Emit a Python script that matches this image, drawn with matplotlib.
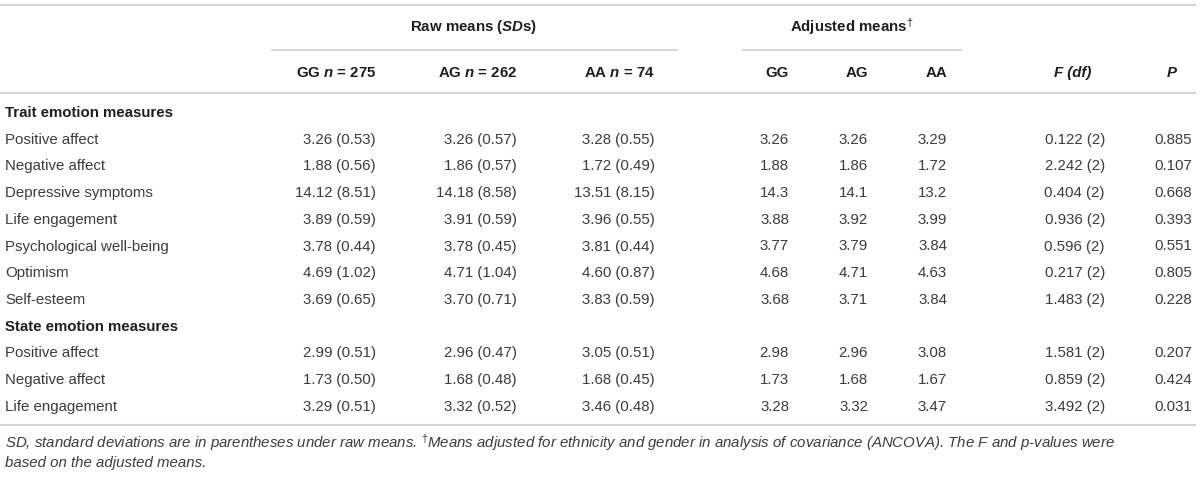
import matplotlib
matplotlib.use("Agg")
import matplotlib.pyplot as plt

plt.rcParams['font.family'] = ['Liberation Sans', 'DejaVu Sans']
plt.rcParams['mathtext.fontset'] = 'custom'
plt.rcParams['mathtext.rm'] = 'Liberation Sans'
plt.rcParams['mathtext.it'] = 'Liberation Sans:italic'
plt.rcParams['mathtext.bf'] = 'Liberation Sans:bold'
plt.rcParams['mathtext.bfit'] = 'Liberation Sans:italic:bold'

# table content
sections = ["Trait emotion measures", "State emotion measures"]
trait_measures = ["Positive affect", "Negative affect", "Depressive symptoms", "Life engagement",
                  "Psychological well-being", "Optimism", "Self-esteem"]
state_measures = ["Positive affect", "Negative affect", "Life engagement"]

raw_gg_mean = [3.26, 1.88, 14.12, 3.89, 3.78, 4.69, 3.69, 2.99, 1.73, 3.29]
raw_gg_sd = [0.53, 0.56, 8.51, 0.59, 0.44, 1.02, 0.65, 0.51, 0.50, 0.51]
raw_ag_mean = [3.26, 1.86, 14.18, 3.91, 3.78, 4.71, 3.70, 2.96, 1.68, 3.32]
raw_ag_sd = [0.57, 0.57, 8.58, 0.59, 0.45, 1.04, 0.71, 0.47, 0.48, 0.52]
raw_aa_mean = [3.28, 1.72, 13.51, 3.96, 3.81, 4.60, 3.83, 3.05, 1.68, 3.46]
raw_aa_sd = [0.55, 0.49, 8.15, 0.55, 0.44, 0.87, 0.59, 0.51, 0.45, 0.48]

adj_gg = ["3.26", "1.88", "14.3", "3.88", "3.77", "4.68", "3.68", "2.98", "1.73", "3.28"]
adj_ag = ["3.26", "1.86", "14.1", "3.92", "3.79", "4.71", "3.71", "2.96", "1.68", "3.32"]
adj_aa = ["3.29", "1.72", "13.2", "3.99", "3.84", "4.63", "3.84", "3.08", "1.67", "3.47"]

f_vals = [0.122, 2.242, 0.404, 0.936, 0.596, 0.217, 1.483, 1.581, 0.859, 3.492]
df_vals = [2, 2, 2, 2, 2, 2, 2, 2, 2, 2]
p_vals = [0.885, 0.107, 0.668, 0.393, 0.551, 0.805, 0.228, 0.207, 0.424, 0.031]

group_heads = [r"Raw means ($\mathbfit{SD}$s)", r"Adjusted means$^{\dagger}$"]
col_heads = [r"GG $\mathbfit{n}$ = 275", r"AG $\mathbfit{n}$ = 262", r"AA $\mathbfit{n}$ = 74",
             "GG", "AG", "AA"]

footnote = [r"SD, standard deviations are in parentheses under raw means. $^{\dagger}$Means adjusted for "
            r"ethnicity and gender in analysis of covariance (ANCOVA). The F and p-values were",
            "based on the adjusted means."]

TXT = '#3c3c3c'
HEAD = '#1e1e1e'
LINE = '#d6d6d6'
FS = 10.8

fig = plt.figure(figsize=(12, 4.8), dpi=100)
ax = fig.add_axes([0, 0, 1, 1])
ax.set_xlim(0, 1200)
ax.set_ylim(480, 0)
ax.axis('off')

# horizontal rules
ax.plot([0, 1195], [5, 5], color=LINE, lw=1.5)
ax.plot([272, 677], [50, 50], color=LINE, lw=1.5)
ax.plot([743, 961], [50, 50], color=LINE, lw=1.5)
ax.plot([0, 1195], [93, 93], color=LINE, lw=1.5)
ax.plot([0, 1195], [425, 425], color=LINE, lw=1.5)

# headers
ax.text(474, 27, group_heads[0], ha='center', va='center', fontsize=FS, fontweight='bold', color=HEAD)
ax.text(852, 27, group_heads[1], ha='center', va='center', fontsize=FS, fontweight='bold', color=HEAD)

col_right = [376, 517, 655, 789, 868, 947]
for x, h in zip(col_right, col_heads):
    ax.text(x, 73, h, ha='right', va='center', fontsize=FS, fontweight='bold', color=HEAD)
ax.text(1073, 73, "F (df)", ha='center', va='center', fontsize=FS, fontweight='bold',
        fontstyle='italic', color=HEAD)
ax.text(1172, 73, "P", ha='center', va='center', fontsize=FS, fontweight='bold',
        fontstyle='italic', color=HEAD)

# body rows
row_h = 26.7
labels = [sections[0]] + trait_measures + [sections[1]] + state_measures
k = 0
for i, lab in enumerate(labels):
    y = 113 + i * row_h
    if lab in sections:
        ax.text(5, y, lab, va='center', fontsize=FS, fontweight='bold', color=HEAD)
        continue
    ax.text(5, y, lab, va='center', fontsize=FS, color=TXT)
    cells = [f"{raw_gg_mean[k]:.2f} ({raw_gg_sd[k]:.2f})",
             f"{raw_ag_mean[k]:.2f} ({raw_ag_sd[k]:.2f})",
             f"{raw_aa_mean[k]:.2f} ({raw_aa_sd[k]:.2f})",
             adj_gg[k], adj_ag[k], adj_aa[k]]
    for x, c in zip(col_right, cells):
        ax.text(x, y, c, ha='right', va='center', fontsize=FS, color=TXT)
    ax.text(1105, y, f"{f_vals[k]:.3f} ({df_vals[k]})", ha='right', va='center', fontsize=FS, color=TXT)
    ax.text(1192, y, f"{p_vals[k]:.3f}", ha='right', va='center', fontsize=FS, color=TXT)
    k += 1

# footnote
ax.text(5, 443, footnote[0], va='center', fontsize=FS, fontstyle='italic', color=TXT)
ax.text(5, 463, footnote[1], va='center', fontsize=FS, fontstyle='italic', color=TXT)

fig.savefig("out.png", dpi=100)
